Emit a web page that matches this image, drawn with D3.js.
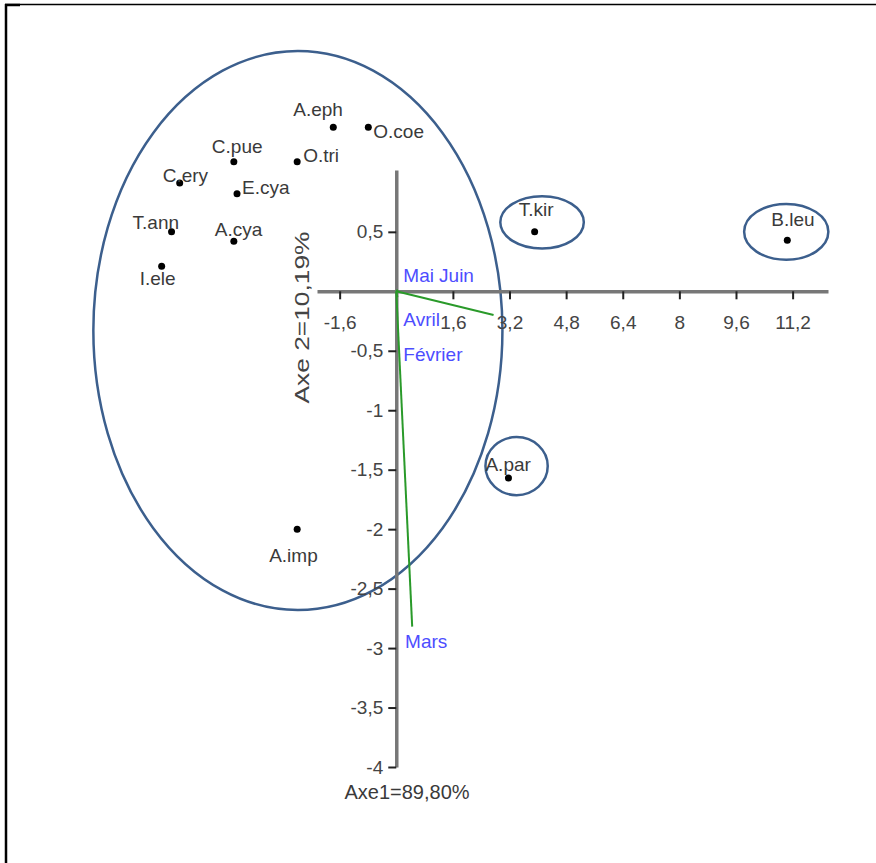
<!DOCTYPE html>
<head>
  <meta charset="utf-8">
  <script src="https://d3js.org/d3.v7.min.js"></script>
  <style>
    body { margin:0; background:#fff; }
    text { font-family: "Liberation Sans", Arial, sans-serif; }
  </style>
</head>

<body>
  <script>

    var width = 876,
        height = 863;

    // species scores (Axe1, Axe2)
    var species = ["A.eph", "O.coe", "C.pue", "O.tri", "C.ery", "E.cya", "T.ann", "A.cya", "I.ele", "T.kir", "B.leu", "A.par", "A.imp"];
    var axe1 = [-1.78, -0.79, -4.59, -2.80, -6.12, -4.50, -6.35, -4.59, -6.63, 3.91, 11.05, 3.17, -2.80];
    var axe2 = [1.38, 1.38, 1.09, 1.09, 0.91, 0.82, 0.50, 0.42, 0.21, 0.50, 0.43, -1.57, -2.00];

    // month vectors
    var months = ["Février", "Mars", "Avril", "Mai", "Juin"];
    var loadX = [0.03, 0.45, 2.75, 0.04, 0.05];
    var loadY = [-0.05, -2.82, -0.20, 0.01, 0.01];
    var monthLabX = [0.2, 0.25, 0.2, 0.2, 1.21];
    var monthLabY = [-0.585, -3.0, -0.29, 0.078, 0.078];

    // groups circled on the plot
    var groups = ["main", "T.kir", "B.leu", "A.par"];
    var ellCx = [-2.78, 4.12, 11.02, 3.40];
    var ellCy = [-0.33, 0.58, 0.50, -1.47];
    var ellRx = [5.78, 1.18, 1.19, 0.88];
    var ellRy = [2.35, 0.22, 0.235, 0.244];

    var xTicks = [-1.6, 1.6, 3.2, 4.8, 6.4, 8, 9.6, 11.2];
    var yTicks = [0.5, -0.5, -1, -1.5, -2, -2.5, -3, -3.5, -4];

    // label offsets in px (start anchored)
    var labelOff = {
      "A.eph": [-40, -11], "O.coe": [5, 11], "C.pue": [-22, -9], "O.tri": [6, 0],
      "C.ery": [-17, -1], "E.cya": [5, 0], "T.ann": [-39, -3], "A.cya": [-19, -5],
      "I.ele": [-22, 19], "T.kir": [-16, -16], "B.leu": [-16, -14], "A.par": [-23, -7],
      "A.imp": [-28, 33]
    };

    var fr = d3.formatLocale({decimal: ",", thousands: " ", grouping: [3], currency: ["", " €"], minus: "-"});
    var fmt = fr.format("");

    var x = d3.scaleLinear().domain([-2.24, 12.2]).range([317, 828]);
    var y = d3.scaleLinear().domain([-4, 1.02]).range([767, 170]);

    var svg = d3.select("body").append("svg")
      .attr("width", width)
      .attr("height", height);

    // frame
    svg.append("path").attr("d", "M5,4.5H876").attr("stroke", "#000").attr("stroke-width", 1.5);
    svg.append("path").attr("d", "M6,4V863").attr("stroke", "#000").attr("stroke-width", 2.5);
    svg.append("path").attr("d", "M5,5H20").attr("stroke", "#000").attr("stroke-width", 2.5);

    // ellipses
    svg.selectAll("ellipse").data(groups).enter()
      .append("ellipse")
      .attr("cx", function(d, i) { return x(ellCx[i]); })
      .attr("cy", function(d, i) { return y(ellCy[i]); })
      .attr("rx", function(d, i) { return x(ellRx[i]) - x(0); })
      .attr("ry", function(d, i) { return y(0) - y(ellRy[i]); })
      .attr("fill", "none")
      .attr("stroke", "#3c5f8d")
      .attr("stroke-width", 2.5);

    // axes
    var xAxis = d3.axisBottom(x).tickValues(xTicks).tickFormat(fmt)
      .tickSize(8).tickSizeOuter(0).tickPadding(16);
    var yAxis = d3.axisLeft(y).tickValues(yTicks).tickFormat(fmt)
      .tickSize(8).tickSizeOuter(0).tickPadding(5);

    var gx = svg.append("g").attr("transform", "translate(0," + y(0) + ")").call(xAxis);
    var gy = svg.append("g").attr("transform", "translate(" + x(0) + ",0)").call(yAxis);

    [gx, gy].forEach(function(g) {
      g.select(".domain").attr("stroke", "#777").attr("stroke-width", 3.5);
      g.selectAll(".tick line").attr("stroke", "#222").attr("stroke-width", 2);
      g.selectAll(".tick text")
        .attr("fill", "#444")
        .style("font-size", "19px")
        .style("font-family", "'Liberation Sans', Arial, sans-serif");
    });

    // month vectors
    svg.selectAll("line.vec").data(months).enter()
      .append("line").attr("class", "vec")
      .attr("x1", x(0)).attr("y1", y(0))
      .attr("x2", function(d, i) { return x(loadX[i]); })
      .attr("y2", function(d, i) { return y(loadY[i]); })
      .attr("stroke", "#2a9a2a")
      .attr("stroke-width", 2);

    svg.selectAll("text.month").data(months).enter()
      .append("text").attr("class", "month")
      .attr("x", function(d, i) { return x(monthLabX[i]); })
      .attr("y", function(d, i) { return y(monthLabY[i]); })
      .attr("fill", "#4d4dff")
      .style("font-size", "19px")
      .text(function(d) { return d; });

    // species points
    svg.selectAll("circle").data(species).enter()
      .append("circle")
      .attr("cx", function(d, i) { return x(axe1[i]); })
      .attr("cy", function(d, i) { return y(axe2[i]); })
      .attr("r", 3.5)
      .attr("fill", "#000");

    svg.selectAll("text.sp").data(species).enter()
      .append("text").attr("class", "sp")
      .attr("x", function(d, i) { return x(axe1[i]) + labelOff[d][0]; })
      .attr("y", function(d, i) { return y(axe2[i]) + labelOff[d][1]; })
      .attr("fill", "#3a3a3a")
      .style("font-size", "19px")
      .text(function(d) { return d; });

    // axis titles
    svg.append("text")
      .attr("x", 407).attr("y", 799)
      .attr("text-anchor", "middle")
      .attr("fill", "#3a3a3a")
      .style("font-size", "20px")
      .text("Axe1=89,80%");

    svg.append("text")
      .attr("transform", "translate(309,317.5) rotate(-90)")
      .attr("text-anchor", "middle")
      .attr("fill", "#444")
      .attr("textLength", 172)
      .attr("lengthAdjust", "spacingAndGlyphs")
      .style("font-size", "20px")
      .text("Axe 2=10,19%");

  </script>
</body>
